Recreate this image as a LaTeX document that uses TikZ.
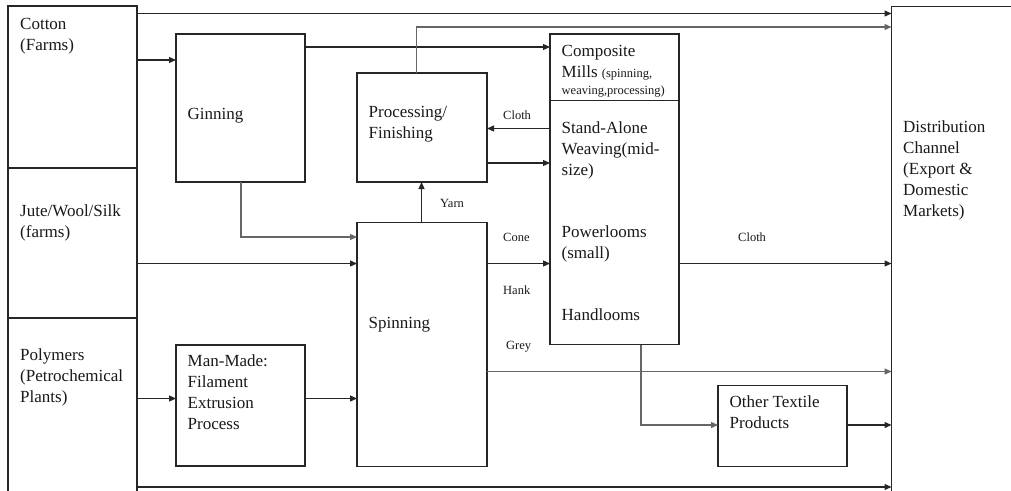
\documentclass[tikz,border=0pt]{standalone}
\usepackage{fontspec}
\setmainfont{Liberation Serif}
\usetikzlibrary{arrows.meta,calc}
\begin{document}
\begin{tikzpicture}[x=1pt,y=-1pt,
  box/.style={draw=black!85,line width=1.2pt,inner sep=0pt,outer sep=0pt,anchor=north west},
  txt/.style={anchor=base west,inner sep=0pt,align=left,text=black!90,font=\fontsize{17}{21}\selectfont},
  lbl/.style={anchor=base west,inner sep=0pt,text=black!90,font=\fontsize{12.5}{14}\selectfont},
  arr/.style={draw=black!85,line width=1.2pt,-{Triangle[length=7pt,width=6pt]}},
  garr/.style={draw=black!60,line width=1.2pt,-{Triangle[length=7pt,width=6pt]}}]
\useasboundingbox (0,0) rectangle (1011,490);
\clip (0,0) rectangle (1011,490);
\fill[white] (0,0) rectangle (1011,490);

% boxes
\node[box,minimum width=129pt,minimum height=162pt] (cotton) at (8,6) {};
\node[box,minimum width=129pt,minimum height=150pt] (jute) at (8,168) {};
\node[box,minimum width=129pt,minimum height=185pt] (poly) at (8,318) {};
\node[box,minimum width=129pt,minimum height=148pt] (gin) at (176,34) {};
\node[box,minimum width=130pt,minimum height=109pt] (proc) at (357,73) {};
\node[box,minimum width=130pt,minimum height=244pt] (spin) at (357,222.5) {};
\node[box,minimum width=129pt,minimum height=121pt] (man) at (176,345) {};
\node[box,minimum width=129pt,minimum height=66.5pt] (comp) at (550,34) {};
\node[box,minimum width=129pt,minimum height=244pt] (weave) at (550,100.5) {};
\node[box,minimum width=129pt,minimum height=81pt] (other) at (718,385.5) {};
\node[box,minimum width=140pt,minimum height=500pt] (dist) at (891.5,6.5) {};

% texts (anchor = baseline of the last line)
\node[txt] (tcotton) at (20,50) {Cotton\\(Farms)};
\node[txt] (tjute) at (20,237.5) {Jute/Wool/Silk\\(farms)};
\node[txt] (tpoly) at (20,402.5) {Polymers\\(Petrochemical\\Plants)};
\node[txt] (tgin) at (187.5,119.5) {Ginning};
\node[txt] (tman) at (187.5,429.5) {Man-Made:\\Filament\\Extrusion\\Process};
\node[txt] (tproc) at (368.5,138.5) {Processing/\\Finishing};
\node[txt] (tspin) at (368.5,328) {Spinning};
\node[txt] (tcomp) at (561.5,56) {Composite};
\node[txt] (tmills) at (561.5,77) {Mills {\fontsize{12.5}{14}\selectfont (spinning,}};
\node[lbl] (tmills2) at (561.5,94) {weaving,processing)};
\node[txt] (tstand) at (561.5,175) {Stand-Alone\\Weaving(mid-\\size)};
\node[txt] (tpower) at (561.5,258) {Powerlooms\\(small)};
\node[txt] (thand) at (561.5,320.5) {Handlooms};
\node[txt] (tother) at (729.5,428) {Other Textile\\Products};
\node[txt] (tdist) at (903,216) {Distribution\\Channel\\(Export \&\\Domestic\\Markets)};

% connector labels
\node[lbl] (lcloth1) at (503,119) {Cloth};
\node[lbl] (lyarn) at (440,207.5) {Yarn};
\node[lbl] (lcone) at (503,241) {Cone};
\node[lbl] (lhank) at (503,294) {Hank};
\node[lbl] (lgrey) at (506,349.5) {Grey};
\node[lbl] (lcloth2) at (738,241) {Cloth};

% connectors
\draw[arr] (cotton.east |- 0,13.5) -- (dist.west |- 0,13.5);
\draw[arr] (cotton.east |- 0,60) -- (gin.west |- 0,60);
\draw[arr] (gin.east |- 0,47) -- (comp.west |- 0,47);
\draw[garr] (gin.south -| 241,0) -- (241,237) -- (spin.west |- 0,237);
\draw[garr] (proc.north -| 416.5,0) -- (416.5,27) -- (dist.west |- 0,27);
\draw[arr] (weave.west |- 0,128.5) -- (proc.east |- 0,128.5);
\draw[arr] (proc.east |- 0,163) -- (weave.west |- 0,163);
\draw[arr] (spin.north -| 421.5,0) -- (proc.south -| 421.5,0);
\draw[arr] (jute.east |- 0,263.5) -- (spin.west |- 0,263.5);
\draw[arr] (spin.east |- 0,263.5) -- (weave.west |- 0,263.5);
\draw[arr] (weave.east |- 0,263.5) -- (dist.west |- 0,263.5);
\draw[garr] (spin.east |- 0,371.5) -- (dist.west |- 0,371.5);
\draw[garr] (weave.south -| 641,0) -- (641,425) -- (other.west |- 0,425);
\draw[arr] (other.east |- 0,425) -- (dist.west |- 0,425);
\draw[arr] (poly.east |- 0,398.5) -- (man.west |- 0,398.5);
\draw[arr] (man.east |- 0,398.5) -- (spin.west |- 0,398.5);
\draw[arr] (poly.east |- 0,487) -- (dist.west |- 0,487);
\end{tikzpicture}
\end{document}
